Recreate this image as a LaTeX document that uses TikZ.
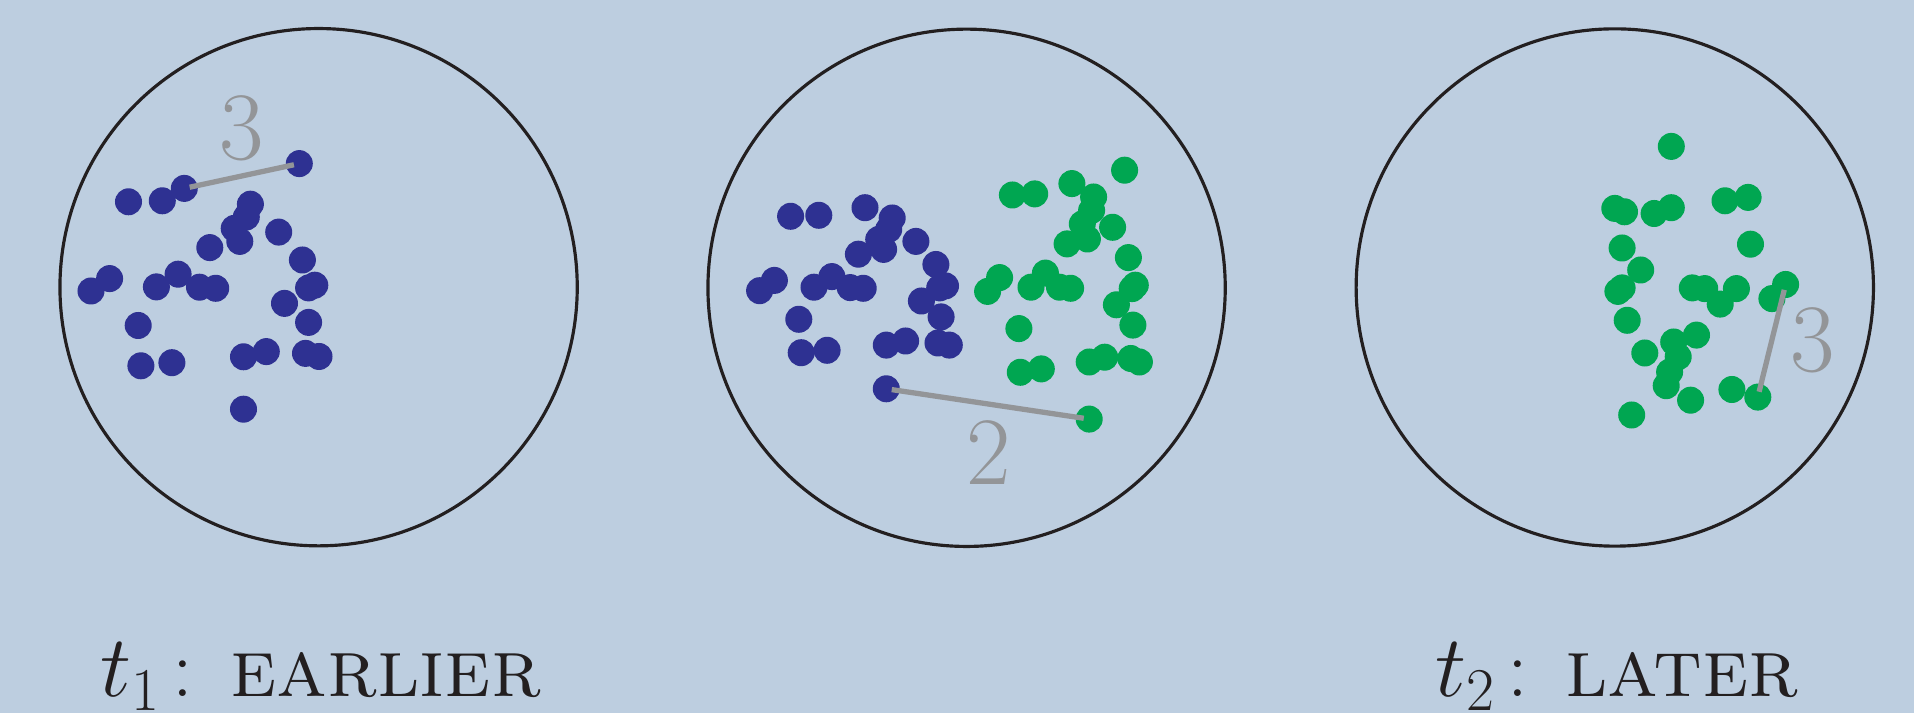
\documentclass[tikz,border=0pt]{standalone}
\usepackage{tikz}
\definecolor{bgblue}{RGB}{189,206,224}
\definecolor{dotblue}{RGB}{46,49,146}
\definecolor{dotgreen}{RGB}{0,166,81}
\definecolor{linegray}{RGB}{147,149,152}
\definecolor{ringcol}{RGB}{35,31,32}
\tikzset{
  bdot/.style={circle,fill=dotblue,inner sep=0pt,minimum size=0.27cm},
  gdot/.style={circle,fill=dotgreen,inner sep=0pt,minimum size=0.27cm},
  ring/.style={circle,draw=ringcol,line width=0.9pt,inner sep=0pt,minimum size=5.17cm},
  link/.style={draw=linegray,line width=1.5pt,shorten >=0.055cm,shorten <=0.055cm},
  numlab/.style={text=linegray,inner sep=0pt,font=\fontsize{27.5}{30}\selectfont},
  caplab/.style={text=ringcol,inner sep=0pt,anchor=base west,font=\fontsize{23.6}{26}\selectfont}
}
\begin{document}
\begin{tikzpicture}[x=0.01cm,y=-0.01cm]
\fill[bgblue] (0,0) rectangle (1914,713);
\useasboundingbox (0,0) rectangle (1914,713);
% rings
\node[ring] (c1) at (318.6,287.2) {};
\node[ring] (c2) at (966.6,287.8) {};
\node[ring] (c3) at (1614.8,287.5) {};
% circle 1: blue
\foreach \n/\x/\y in {1/128.5/201.8, 2/162.3/200.8, 3/184.3/188.4, 4/299.3/163.6, 5/250.4/204.2,
  6/246.3/217.0, 7/234.2/228.4, 8/239.8/241.4, 9/209.8/247.6, 10/278.7/232.1, 11/302.4/260.0,
  12/109.6/278.6, 13/91.0/291.0, 14/156.4/286.9, 15/178.1/274.2, 16/199.5/287.2, 17/215.7/288.3,
  18/314.8/285.2, 19/308.6/287.9, 20/284.5/303.4, 21/138.2/325.5, 22/308.6/322.4, 23/140.9/365.8,
  24/171.9/362.7, 25/243.5/356.8, 26/266.3/351.6, 27/305.5/353.4, 28/319.0/356.5, 29/243.5/409.2}
  {\node[bdot] (a\n) at (\x,\y) {};}
% circle 2: blue
\foreach \n/\x/\y in {1/790.6/216.3, 2/818.8/215.3, 3/865.0/207.7, 4/892.2/218.0, 5/888.7/229.4,
  6/878.7/239.4, 7/883.6/249.4, 8/858.4/254.2, 9/915.9/241.4, 10/935.9/264.5, 11/945.5/285.9,
  12/939.7/287.9, 13/921.4/301.0, 14/941.1/316.9, 15/774.4/280.4, 16/759.6/290.7, 17/814.0/287.2,
  18/831.9/276.6, 19/850.2/287.6, 20/863.2/288.3, 21/798.8/319.3, 22/801.2/352.7, 23/827.1/350.3,
  24/886.3/345.1, 25/905.6/341.0, 26/938.0/343.0, 27/949.3/345.1, 28/886.3/388.8}
  {\node[bdot] (b\n) at (\x,\y) {};}
% circle 2: green
\foreach \n/\x/\y in {1/1012.4/195.0, 2/1034.7/193.9, 3/1071.9/183.6, 4/1124.6/170.2, 5/1093.6/197.0,
  6/1091.6/210.4, 7/1082.3/223.9, 8/1087.4/239.0, 9/1067.1/243.9, 10/1112.6/227.3, 11/1128.4/257.6,
  12/999.6/277.6, 13/987.6/291.4, 14/1045.4/273.1, 15/1031.0/287.2, 16/1059.5/287.2, 17/1070.6/288.3,
  18/1135.3/285.2, 19/1132.2/288.6, 20/1116.4/304.8, 21/1018.9/328.6, 22/1132.9/325.1, 23/1020.3/372.3,
  24/1041.3/368.9, 25/1089.2/362.0, 26/1104.7/357.2, 27/1130.8/358.5, 28/1139.4/362.0, 29/1089.2/419.1}
  {\node[gdot] (g\n) at (\x,\y) {};}
% circle 3: green
\foreach \n/\x/\y in {1/1671.3/146.4, 2/1614.8/208.4, 3/1624.5/211.8, 4/1654.1/213.5, 5/1671.3/207.7,
  6/1725.0/200.8, 7/1748.1/197.4, 8/1622.1/248.0, 9/1750.5/244.2, 10/1640.7/270.0, 11/1622.1/287.9,
  12/1617.9/291.4, 13/1692.3/287.9, 14/1704.7/288.6, 15/1736.4/288.6, 16/1720.2/304.1, 17/1785.6/284.5,
  18/1771.9/298.6, 19/1627.2/320.3, 20/1696.5/335.1, 21/1673.7/342.0, 22/1678.2/356.8, 23/1669.6/372.0,
  24/1666.2/385.7, 25/1644.8/353.0, 26/1690.6/400.2, 27/1731.9/389.5, 28/1757.8/397.1, 29/1631.7/415.0}
  {\node[gdot] (h\n) at (\x,\y) {};}
% distance links
\draw[link] (a3.center) -- (a4.center);
\draw[link] (b28.center) -- (g29.center);
\draw[link] (h28.center) -- (h17.center);
% distance labels
\node[numlab] (n1) at (241.8,128.5) {3};
\node[numlab] (n2) at (988.6,452.2) {2};
\node[numlab] (n3) at (1812.5,340.3) {3};
% captions
\node[caplab] (l1) at (100,697) {$t_1$\hspace{0.13em}:\hspace{0.45em}\textsc{earlier}};
\node[caplab] (l2) at (1435,697) {$t_2$\hspace{0.13em}:\hspace{0.45em}\textsc{later}};
\end{tikzpicture}
\end{document}
